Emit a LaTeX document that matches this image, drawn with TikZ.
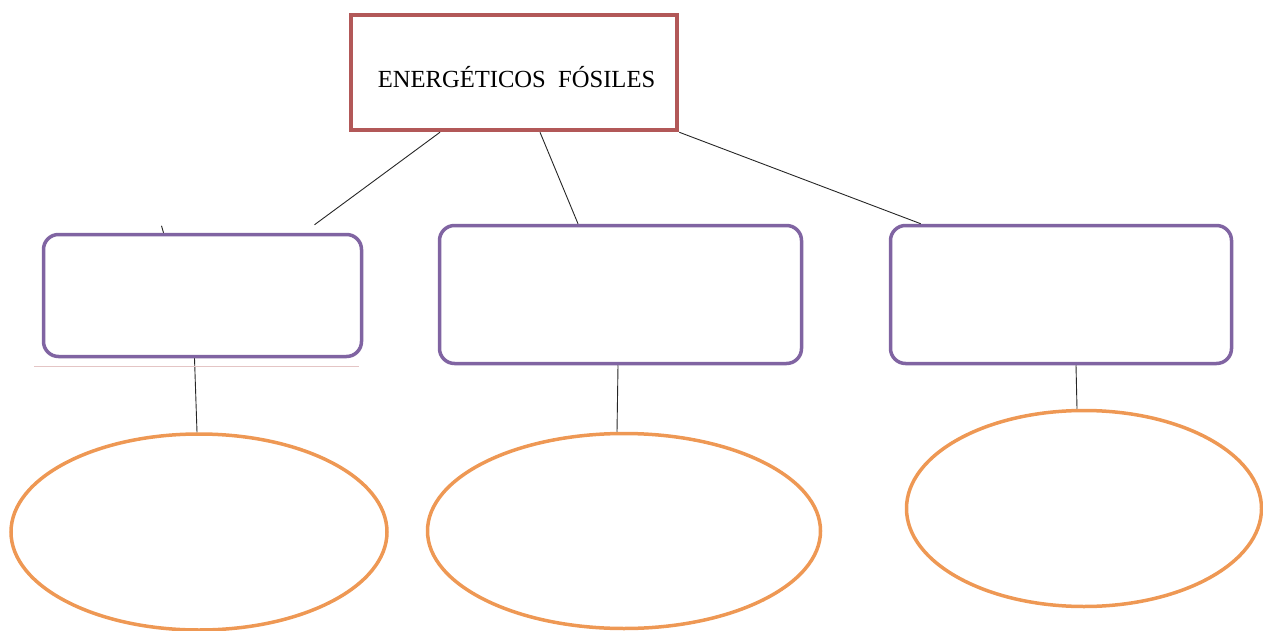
\documentclass[tikz,border=0pt]{standalone}
\usepackage{fontspec}
\setmainfont{Liberation Serif}
\usetikzlibrary{shapes.geometric}
\definecolor{boxred}{RGB}{178,88,88}
\definecolor{boxpurple}{RGB}{128,100,162}
\definecolor{ovalorange}{RGB}{238,152,84}
\tikzset{
  topbox/.style={draw=boxred,line width=4.5pt,inner sep=0pt,
    minimum width=326pt,minimum height=115pt,text height=16pt,text depth=0pt,
    font=\fontsize{24.6}{28}\selectfont},
  midbox/.style={draw=boxpurple,line width=3.5pt,rounded corners=15pt,inner sep=0pt},
  oval/.style={draw=ovalorange,line width=3.5pt,ellipse,inner sep=0pt},
  link/.style={draw=black!85,line width=0.9pt}
}
\begin{document}
\begin{tikzpicture}[x=1pt,y=-1pt]
  \useasboundingbox (0,0) rectangle (1263,631);

  \node[topbox] (fosil) at (514,72.5) {\hspace*{5pt}\raisebox{-7.5pt}{ENERGÉTICOS\ \ FÓSILES}};

  \node[midbox,minimum width=318pt,minimum height=122pt] (boxa) at (202.5,295.5) {};
  \node[midbox,minimum width=362pt,minimum height=138pt] (boxb) at (620.5,294.5) {};
  \node[midbox,minimum width=341pt,minimum height=138pt] (boxc) at (1061,294.5) {};

  \node[oval,minimum width=376pt,minimum height=196pt] (ovala) at (199,532) {};
  \node[oval,minimum width=393pt,minimum height=195pt] (ovalb) at (624,531) {};
  \node[oval,minimum width=355pt,minimum height=196pt] (ovalc) at (1084,508.5) {};

  \draw[link] ([xshift=-74pt]fosil.south) -- ([xshift=112pt,yshift=8pt]boxa.north);
  \draw[link] ([xshift=26pt]fosil.south) -- ([xshift=-42.5pt]boxb.north);
  \draw[link] (fosil.south east) -- ([xshift=32pt]boxc.north west);

  \draw[link] ([xshift=-8pt]boxa.south) -- ([xshift=-2pt]ovala.north);
  \draw[link] ([xshift=-2.5pt]boxb.south) -- ([xshift=-7pt]ovalb.north);
  \draw[link] ([xshift=15pt]boxc.south) -- ([xshift=-7pt]ovalc.north);

  % stray marks around the first box
  \draw[link] ([xshift=-41pt,yshift=7pt]boxa.north) -- ([xshift=-39pt]boxa.north);
  \draw[draw=boxred!35,line width=0.7pt] ([xshift=-8pt,yshift=-8.5pt]boxa.south west)
    -- ([xshift=-4pt,yshift=-8.5pt]boxa.south east);
\end{tikzpicture}
\end{document}
